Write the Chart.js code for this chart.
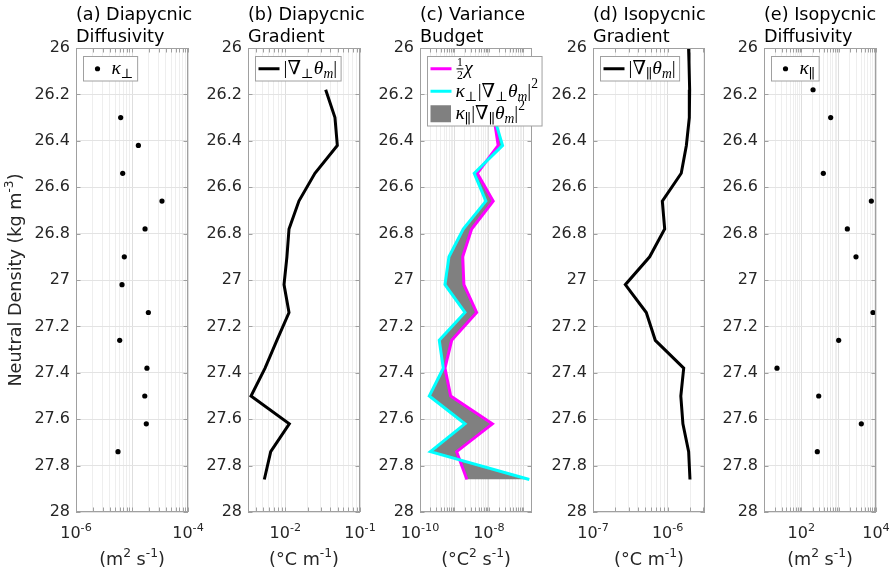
<!DOCTYPE html>
<html>
<head>
<meta charset="utf-8">
<script src="https://cdn.jsdelivr.net/npm/chart.js@4.4.1/dist/chart.umd.min.js"></script>
<style>
html, body { margin: 0; padding: 0; background: #fff; overflow: hidden; }
#wrap { position: relative; width: 890px; height: 577px; }
#wrap canvas { position: absolute; top: 0; }
</style>
</head>
<body>
<div id="wrap">
  <canvas id="pa" width="218" height="577"></canvas>
  <canvas id="pb" width="218" height="577"></canvas>
  <canvas id="pc" width="218" height="577"></canvas>
  <canvas id="pd" width="218" height="577"></canvas>
  <canvas id="pe" width="218" height="577"></canvas>
</div>
<script>
// neutral density levels (kg m^-3)
var density = [25.94, 26.06, 26.18, 26.30, 26.42, 26.54, 26.66, 26.78, 26.90, 27.02, 27.14, 27.26, 27.38, 27.50, 27.62, 27.74, 27.86];

// (a) diapycnic diffusivity, m^2 s^-1
var kappaPerp = [null, null, null, 6.28e-6, 1.30e-5, 6.82e-6, 3.43e-5, 1.71e-5, 7.29e-6, 6.63e-6, 1.96e-5, 6.03e-6, 1.85e-5, 1.69e-5, 1.80e-5, 5.62e-6, null];
// (b) diapycnic gradient, degC m^-1
var gradPerp = [null, null, 0.0347, 0.0462, 0.0497, 0.0249, 0.0152, 0.0112, 0.0105, 0.0096, 0.0112, 0.0077, 0.00535, 0.00347, 0.0113, 0.00637, 0.00523];
// (c) variance budget terms, degC^2 s^-1
var halfChi = [null, null, null, 1.40e-8, 1.86e-8, 4.58e-9, 1.33e-8, 3.15e-9, 1.73e-9, 1.88e-9, 4.40e-9, 8.3e-10, 5.3e-10, 7.76e-10, 1.26e-8, 1.16e-9, 2.30e-9];
var perpTerm = [null, null, null, 1.43e-8, 2.49e-8, 3.75e-9, 8.18e-9, 1.80e-9, 6.93e-10, 5.3e-10, 2.02e-9, 3.62e-10, 4.73e-10, 1.86e-10, 2.02e-9, 2.01e-10, 1.49e-7];
// (d) isopycnic gradient, degC m^-1
var gradPar = [1.88e-6, 1.93e-6, 1.97e-6, 1.95e-6, 1.78e-6, 1.52e-6, 8.48e-7, 9.12e-7, 5.74e-7, 2.71e-7, 5.17e-7, 6.83e-7, 1.64e-6, 1.50e-6, 1.60e-6, 1.91e-6, 1.99e-6];
// (e) isopycnic diffusivity, m^2 s^-1
var kappaPar = [null, null, 206, 611, null, 388, 7500, 1707, 2911, null, 8318, 1000, 22.3, 292, 4045, 268, null];

// axis ticks
var densityTicks = [26, 26.2, 26.4, 26.6, 26.8, 27, 27.2, 27.4, 27.6, 27.8, 28];
var expA = [-6, -4];
var expB = [-2, -1];
var expC = [-10, -8];
var expD = [-7, -6];
var expE = [2, 4];

var SANS = '"DejaVu Sans", sans-serif';
var SERIF = '"Liberation Serif", "DejaVu Serif", serif';
var INK = '#262626';
var FRAME = '#a0a0a0';
var Y_W = 76;

function pts(vals) {
  return density.map(function (d, i) { return { x: vals[i], y: d }; })
    .filter(function (p) { return p.x !== null; });
}

function logGrid(min, max) {
  var out = [];
  for (var e = Math.floor(Math.log10(min)); e <= Math.ceil(Math.log10(max)); e++) {
    for (var k = 1; k <= 9; k++) {
      var v = k * Math.pow(10, e);
      if (v >= min * 0.9999 && v <= max * 1.0001) out.push(v);
    }
  }
  return out;
}
function isDecade(v) {
  if (!v) return false;
  var l = Math.log10(v);
  return Math.abs(l - Math.round(l)) < 1e-6;
}

// rich text: segments with optional super/subscript, math font, fractions
function sup(t) { return { t: t, s: 'sup' }; }
function mi(t) { return { t: t, m: 1, i: 1 }; }
function mr(t) { return { t: t, m: 1 }; }
function msub(t) { return { t: t, m: 1, s: 'sub' }; }
function misub(t) { return { t: t, m: 1, i: 1, s: 'sub' }; }
function msup(t) { return { t: t, m: 1, s: 'sup' }; }

function segFont(g, size) {
  var sz = g.s ? size * 0.7 : size;
  return (g.i ? 'italic ' : '') + sz.toFixed(1) + 'px ' + (g.m ? SERIF : SANS);
}
function segWidth(ctx, g, size) {
  if (g.frac) {
    ctx.font = (size * 0.6).toFixed(1) + 'px ' + SERIF;
    return Math.max(ctx.measureText(g.frac[0]).width, ctx.measureText(g.frac[1]).width) + 3;
  }
  ctx.font = segFont(g, size);
  return ctx.measureText(g.t).width;
}
function richWidth(ctx, segs, size) {
  var w = 0;
  segs.forEach(function (g) { w += segWidth(ctx, g, size); });
  return w;
}
function drawRich(ctx, segs, x, y, size, align, color) {
  var w = richWidth(ctx, segs, size);
  if (align === 'center') x -= w / 2;
  if (align === 'right') x -= w;
  ctx.fillStyle = color;
  ctx.textBaseline = 'alphabetic';
  segs.forEach(function (g) {
    var gw = segWidth(ctx, g, size);
    if (g.frac) {
      ctx.textAlign = 'center';
      ctx.fillText(g.frac[0], x + gw / 2, y - size * 0.42);
      ctx.fillText(g.frac[1], x + gw / 2, y + size * 0.24);
      ctx.fillRect(x + 1, y - size * 0.3, gw - 2, 1);
    } else {
      ctx.textAlign = 'left';
      ctx.font = segFont(g, size);
      var dy = g.s === 'sup' ? -size * 0.45 : (g.s === 'sub' ? size * 0.2 : 0);
      ctx.fillText(g.t, x, y + dy);
    }
    x += gw;
  });
}

function panelPlugin(p) {
  return {
    id: 'panel',
    afterDatasetsDraw: function (chart) {
      var ctx = chart.ctx, a = chart.chartArea, xs = chart.scales.x, ys = chart.scales.y;
      ctx.save();
      // box and inward tick marks
      ctx.strokeStyle = FRAME;
      ctx.lineWidth = 1;
      ctx.beginPath();
      xs.ticks.forEach(function (t) {
        var px = Math.round(xs.getPixelForValue(t.value)) + 0.5;
        ctx.moveTo(px, a.bottom); ctx.lineTo(px, a.bottom - 4.5);
        ctx.moveTo(px, a.top); ctx.lineTo(px, a.top + 4.5);
      });
      ys.ticks.forEach(function (t) {
        var py = Math.round(ys.getPixelForValue(t.value)) + 0.5;
        ctx.moveTo(a.left, py); ctx.lineTo(a.left + 4.5, py);
        ctx.moveTo(a.right, py); ctx.lineTo(a.right - 4.5, py);
      });
      ctx.stroke();
      ctx.strokeRect(a.left + 0.5, a.top + 0.5, a.right - a.left - 1, a.bottom - a.top - 1);

      // legend
      var size = 19.5, rowH = 22.5, tw = 0;
      p.legend.forEach(function (it) { tw = Math.max(tw, richWidth(ctx, it.text, size)); });
      var bx = a.left + 7.5, by = a.top + 8.5, bw = 28 + tw + 4, bh = p.legend.length * rowH + 2;
      ctx.fillStyle = '#fff';
      ctx.fillRect(bx, by, bw, bh);
      ctx.strokeStyle = FRAME;
      ctx.lineWidth = 1;
      ctx.strokeRect(bx, by, bw, bh);
      p.legend.forEach(function (it, k) {
        var ds = chart.data.datasets[it.ds];
        var cy = by + 1 + rowH * (k + 0.5);
        if (it.kind === 'line') {
          ctx.strokeStyle = ds.borderColor;
          ctx.lineWidth = ds.borderWidth;
          ctx.beginPath(); ctx.moveTo(bx + 3, cy); ctx.lineTo(bx + 24, cy); ctx.stroke();
        } else if (it.kind === 'dot') {
          ctx.fillStyle = ds.pointBackgroundColor;
          ctx.beginPath(); ctx.arc(bx + 14, cy, 2.6, 0, Math.PI * 2); ctx.fill();
        } else {
          ctx.fillStyle = ds.backgroundColor;
          ctx.fillRect(bx + 3, cy - 8.5, 20.5, 17);
        }
        drawRich(ctx, it.text, bx + 28, cy + 5.5, size, 'left', '#000');
      });
      ctx.restore();
    },
    afterDraw: function (chart) {
      var ctx = chart.ctx, a = chart.chartArea, xs = chart.scales.x;
      ctx.save();
      // two-line title
      drawRich(ctx, [{ t: p.title[0] }], a.left, 20, 17.6, 'left', '#000');
      drawRich(ctx, [{ t: p.title[1] }], a.left, 41.5, 17.6, 'left', '#000');
      // decade tick labels
      p.exps.forEach(function (e) {
        var px = xs.getPixelForValue(Math.pow(10, e));
        drawRich(ctx, [{ t: '10' }, sup(String(e))], px, a.bottom + 26, 16, 'center', INK);
      });
      // x axis label
      drawRich(ctx, p.xlabel, (a.left + a.right) / 2, a.bottom + 53, 17.6, 'center', INK);
      // y axis label
      if (p.ylabel) {
        ctx.translate(21, (a.top + a.bottom) / 2);
        ctx.rotate(-Math.PI / 2);
        drawRich(ctx, p.ylabel, 0, 0, 17.6, 'center', INK);
      }
      ctx.restore();
    }
  };
}

function makePanel(id, left, xmin, xmax, datasets, p) {
  var cv = document.getElementById(id);
  cv.style.left = (left - Y_W) + 'px';
  return new Chart(cv, {
    type: 'line',
    data: { datasets: datasets },
    options: {
      responsive: false,
      animation: false,
      events: [],
      indexAxis: 'y',
      layout: { padding: { left: 0, right: 30, top: 48, bottom: 65 } },
      plugins: { legend: { display: false }, tooltip: { enabled: false }, title: { display: false } },
      scales: {
        x: {
          type: 'logarithmic', position: 'bottom', min: xmin, max: xmax,
          afterBuildTicks: function (s) { s.ticks = logGrid(xmin, xmax).map(function (v) { return { value: v }; }); },
          afterFit: function (s) { s.height = 0; },
          ticks: { display: false },
          grid: {
            drawTicks: false,
            color: function (c) { return isDecade(c.tick && c.tick.value) ? '#dedede' : '#eeeeee'; }
          },
          border: { display: false }
        },
        y: {
          type: 'linear', position: 'left', reverse: true, min: 26, max: 28,
          afterBuildTicks: function (s) { s.ticks = densityTicks.map(function (v) { return { value: v }; }); },
          afterFit: function (s) { s.width = Y_W; },
          ticks: {
            padding: 6, color: INK, font: { family: 'DejaVu Sans', size: 16 },
            callback: function (v) { return String(+Number(v).toFixed(1)); }
          },
          grid: { drawTicks: false, color: '#e3e3e3' },
          border: { display: false }
        }
      }
    },
    plugins: [panelPlugin(p)]
  });
}

function dots(label, vals) {
  return { label: label, data: pts(vals), showLine: false, pointRadius: 2.6, pointBorderWidth: 0,
           pointBackgroundColor: '#000', borderColor: '#000' };
}
function curve(label, vals, color, order) {
  return { label: label, data: pts(vals), borderColor: color, borderWidth: 3, pointRadius: 0,
           fill: false, clip: 0, order: order || 0 };
}

var perpSub = [mi('κ'), msub('⊥')];
var parSub = [mi('κ'), msub('∥')];
var gradPerpTxt = [mr('|'), mr('∇'), msub('⊥'), mi('θ'), misub('m'), mr('|')];
var gradParTxt = [mr('|'), mr('∇'), msub('∥'), mi('θ'), misub('m'), mr('|')];

makePanel('pa', 76, 1e-6, 1e-4, [dots('κ⊥', kappaPerp)], {
  title: ['(a) Diapycnic', 'Diffusivity'], exps: expA,
  xlabel: [{ t: '(m' }, sup('2'), { t: ' s' }, sup('-1'), { t: ')' }],
  ylabel: [{ t: 'Neutral Density (kg m' }, sup('-3'), { t: ')' }],
  legend: [{ kind: 'dot', ds: 0, text: perpSub }]
});

makePanel('pb', 248, Math.pow(10, -2.5), 1e-1, [curve('|∇⊥θm|', gradPerp, '#000')], {
  title: ['(b) Diapycnic', 'Gradient'], exps: expB,
  xlabel: [{ t: '(°C m' }, sup('-1'), { t: ')' }],
  legend: [{ kind: 'line', ds: 0, text: gradPerpTxt }]
});

makePanel('pc', 420, 1e-10, 1.78e-7, [
  curve('½χ', halfChi, '#ff00ff', 1),
  curve('κ⊥|∇⊥θm|²', perpTerm, '#00ffff', 0),
  { label: 'κ∥|∇∥θm|²', data: pts(halfChi), borderColor: 'rgba(0,0,0,0)', borderWidth: 1,
    backgroundColor: '#808080', pointRadius: 0, fill: 1, order: 2 }
], {
  title: ['(c) Variance', 'Budget'], exps: expC,
  xlabel: [{ t: '(°C' }, sup('2'), { t: ' s' }, sup('-1'), { t: ')' }],
  legend: [
    { kind: 'line', ds: 0, text: [{ frac: ['1', '2'] }, mi('χ')] },
    { kind: 'line', ds: 1, text: perpSub.concat(gradPerpTxt, [msup('2')]) },
    { kind: 'box', ds: 2, text: parSub.concat(gradParTxt, [msup('2')]) }
  ]
});

makePanel('pd', 593, 1e-7, Math.pow(10, -5.5), [curve('|∇∥θm|', gradPar, '#000')], {
  title: ['(d) Isopycnic', 'Gradient'], exps: expD,
  xlabel: [{ t: '(°C m' }, sup('-1'), { t: ')' }],
  legend: [{ kind: 'line', ds: 0, text: gradParTxt }]
});

makePanel('pe', 764, 1e1, 1e4, [dots('κ∥', kappaPar)], {
  title: ['(e) Isopycnic', 'Diffusivity'], exps: expE,
  xlabel: [{ t: '(m' }, sup('2'), { t: ' s' }, sup('-1'), { t: ')' }],
  legend: [{ kind: 'dot', ds: 0, text: parSub }]
});
</script>
</body>
</html>
